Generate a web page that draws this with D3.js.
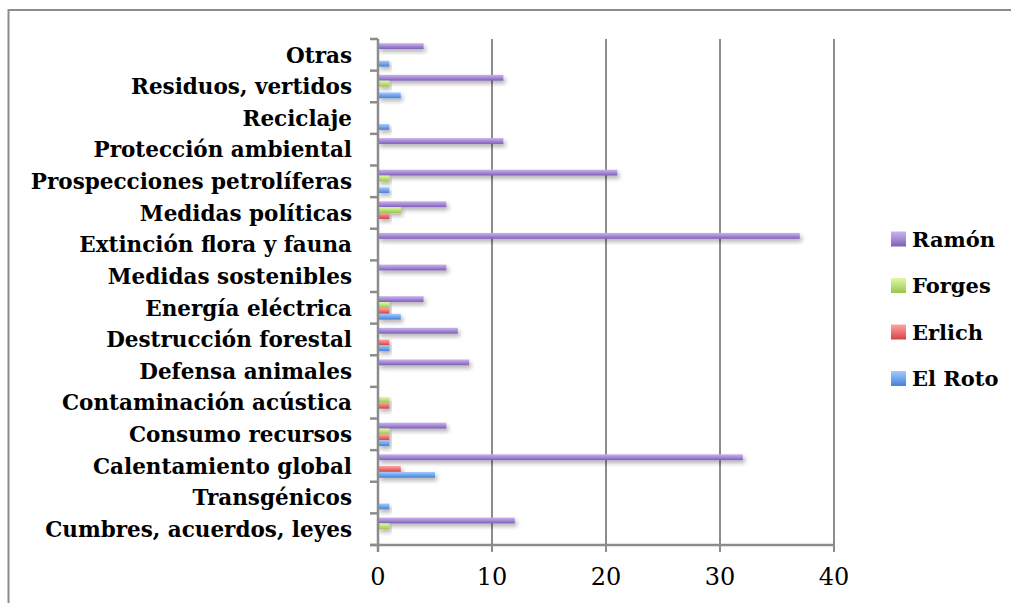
<!DOCTYPE html>
<html>
<head>
<meta charset="utf-8">
<script src="https://cdn.jsdelivr.net/npm/d3@7"></script>
<style>
body{margin:0;background:#fff;}
</style>
</head>
<body>
<div id="chart"></div>
<script>
// categories listed top to bottom as they appear
var categories = ["Otras","Residuos, vertidos","Reciclaje","Protección ambiental","Prospecciones petrolíferas","Medidas políticas","Extinción flora y fauna","Medidas sostenibles","Energía eléctrica","Destrucción forestal","Defensa animales","Contaminación acústica","Consumo recursos","Calentamiento global","Transgénicos","Cumbres, acuerdos, leyes"];
var seriesNames = ["Ramón","Forges","Erlich","El Roto"];
var ramon  = [4,11,0,11,21,6,37,6,4,7,8,0,6,32,0,12];
var forges = [0,1,0,0,1,2,0,0,1,0,0,1,1,0,0,1];
var erlich = [0,0,0,0,0,1,0,0,1,1,0,1,1,2,0,0];
var elRoto = [1,2,1,0,1,0,0,0,2,1,0,0,1,5,1,0];
var xTicks = [0,10,20,30,40];

var seriesValues = [ramon, forges, erlich, elRoto];
var gradColors = [["#c8b2ec","#a68bd8","#7c5fb2"],["#e2f9a6","#bde07a","#98c44c"],["#ffa3a3","#ee7474","#cf4444"],["#a3ccff","#73a6ec","#4682d4"]];

var W = 1011, H = 603;
var margin = {top:39, left:378, right:177, bottom:58};
var width = W - margin.left - margin.right;
var height = H - margin.top - margin.bottom;

var svg = d3.select("#chart").append("svg").attr("width", W).attr("height", H);
var defs = svg.append("defs");

gradColors.forEach(function(c, i){
  var g = defs.append("linearGradient").attr("id","grad"+i).attr("x1",0).attr("y1",0).attr("x2",0).attr("y2",1);
  g.append("stop").attr("offset","0%").attr("stop-color",c[0]);
  g.append("stop").attr("offset","50%").attr("stop-color",c[1]);
  g.append("stop").attr("offset","100%").attr("stop-color",c[2]);
});
var f = defs.append("filter").attr("id","shadow").attr("x","-10%").attr("y","-50%").attr("width","130%").attr("height","250%");
f.append("feDropShadow").attr("dx",2).attr("dy",3).attr("stdDeviation",2).attr("flood-color","#000").attr("flood-opacity",0.3);

// outer frame
svg.append("path")
  .attr("d","M8.5,603 L8.5,10 L1011,10")
  .attr("fill","none").attr("stroke","#8c8c8c").attr("stroke-width",2);

var g = svg.append("g").attr("transform","translate(" + margin.left + "," + margin.top + ")");

var x = d3.scaleLinear().domain([0,40]).range([0,width]);
var y = d3.scaleBand().domain(categories).range([0,height]);
var ySub = d3.scaleBand().domain(seriesNames).range([4.2, y.bandwidth()-4]);

// gridlines
g.selectAll(".grid").data(xTicks.slice(1)).enter().append("line")
  .attr("x1", function(d){return x(d);}).attr("x2", function(d){return x(d);})
  .attr("y1",0).attr("y2",height+7)
  .attr("stroke","#8c8c8c").attr("stroke-width",2);

// bars
seriesNames.forEach(function(s, si){
  var rows = seriesValues[si].map(function(v,i){return {cat:categories[i], v:v};})
    .filter(function(d){return d.v > 0;});
  g.append("g").selectAll("rect").data(rows).enter().append("rect")
    .attr("x", x(0))
    .attr("y", function(d){return y(d.cat) + ySub(s);})
    .attr("width", function(d){return x(d.v) - x(0);})
    .attr("height", ySub.bandwidth())
    .attr("fill","url(#grad"+si+")")
    .attr("filter","url(#shadow)");
});

// y axis
var yBounds = categories.map(function(c){return y(c);}).concat([height]);
g.append("line").attr("x1",0).attr("x2",0).attr("y1",0).attr("y2",height+7)
  .attr("stroke","#8c8c8c").attr("stroke-width",2.5);
g.selectAll(".ytick").data(yBounds).enter().append("line")
  .attr("x1",-8).attr("x2",0)
  .attr("y1",function(d){return d;}).attr("y2",function(d){return d;})
  .attr("stroke","#8c8c8c").attr("stroke-width",2.5);

// x axis
g.append("line").attr("x1",-8).attr("x2",width+1).attr("y1",height).attr("y2",height)
  .attr("stroke","#8c8c8c").attr("stroke-width",2.5);

g.selectAll(".xlab").data(xTicks).enter().append("text")
  .attr("x", function(d){return x(d);})
  .attr("y", height + 40)
  .attr("text-anchor","middle")
  .style("font-family","DejaVu Serif")
  .style("font-size","24px")
  .style("fill","#000")
  .text(function(d){return d;});

// category labels
g.selectAll(".ylab").data(categories).enter().append("text")
  .attr("x",-26)
  .attr("y", function(d){return y(d) + y.bandwidth()/2;})
  .attr("dy","0.36em")
  .attr("text-anchor","end")
  .style("font-family","DejaVu Serif")
  .style("font-weight","bold")
  .style("font-size","21.5px")
  .style("fill","#000")
  .text(function(d){return d;});

// legend
var leg = svg.append("g").attr("transform","translate(891,239)");
seriesNames.forEach(function(s, i){
  var row = leg.append("g").attr("transform","translate(0," + (i*46.5) + ")");
  row.append("rect").attr("x",0).attr("y",-7.5).attr("width",15).attr("height",15)
    .attr("fill","url(#grad"+i+")");
  row.append("text").attr("x",21).attr("y",0).attr("dy","0.36em")
    .style("font-family","DejaVu Serif").style("font-weight","bold").style("font-size","21px")
    .text(s);
});
</script>
</body>
</html>
